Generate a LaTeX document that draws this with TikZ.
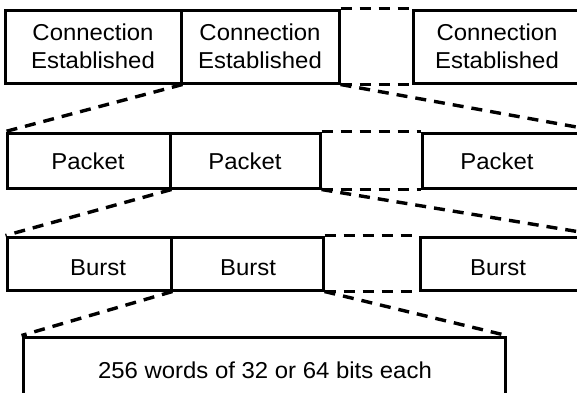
\documentclass[tikz,border=0pt]{standalone}
\usepackage{fontspec}
\setmainfont[FakeStretch=1.04]{Liberation Sans}
\begin{document}
\begin{tikzpicture}[x=1pt,y=-1pt,
  boxline/.style={draw=black,line width=3pt,rectangle,inner sep=0pt},
  dashline/.style={draw=black,line width=3.4pt,dash pattern=on 11pt off 8pt},
  lbl/.style={inner sep=0pt,anchor=base,font=\fontsize{23}{28}\selectfont}]
\useasboundingbox (0,0) rectangle (577,392);
\clip (0,0) rectangle (577,392);
% row 1
\node[boxline,minimum width=176pt,minimum height=73pt] (c1) at (93,46.5) {};
\node[boxline,minimum width=158pt,minimum height=73pt] (c2) at (260,46.5) {};
\node[boxline,minimum width=187pt,minimum height=73pt] (c3) at (506.5,46.5) {};
\node[lbl] (c1a) at (93,40) {Connection};
\node[lbl] (c1b) at (93,68) {Established};
\node[lbl] (c2a) at (260,40) {Connection};
\node[lbl] (c2b) at (260,68) {Established};
\node[lbl] (c3a) at (497,40) {Connection};
\node[lbl] (c3b) at (497,68) {Established};
% row 2
\node[boxline,minimum width=163pt,minimum height=55pt] (p1) at (88.5,160.5) {};
\node[boxline,minimum width=150pt,minimum height=55pt] (p2) at (245,160.5) {};
\node[boxline,minimum width=178pt,minimum height=55pt] (p3) at (511,160.5) {};
\node[lbl] (p1t) at (88,169) {Packet};
\node[lbl] (p2t) at (245,169) {Packet};
\node[lbl] (p3t) at (497,169) {Packet};
% row 3
\node[boxline,minimum width=164pt,minimum height=53pt] (b1) at (89,263.5) {};
\node[boxline,minimum width=152pt,minimum height=53pt] (b2) at (247,263.5) {};
\node[boxline,minimum width=180pt,minimum height=53pt] (b3) at (510,263.5) {};
\node[lbl] (b1t) at (98,275) {Burst};
\node[lbl] (b2t) at (248,275) {Burst};
\node[lbl] (b3t) at (498,275) {Burst};
% row 4
\node[boxline,minimum width=482pt,minimum height=63pt] (w) at (264,368.5) {};
\node[lbl] (wt) at (265,378) {256 words of 32 or 64 bits each};
% gaps between boxes
\draw[dashline] (c2.north east) -- (c3.north west);
\draw[dashline] (c2.south east) -- (c3.south west);
\draw[dashline] (p2.north east) -- (p3.north west);
\draw[dashline] (p2.south east) -- (p3.south west);
\draw[dashline] (b2.north east) -- (b3.north west);
\draw[dashline] (b2.south east) -- (b3.south west);
% expansion lines
\draw[dashline] (c1.south east) -- (p1.north west);
\draw[dashline] (c2.south east) -- (p3.north east);
\draw[dashline] (p1.south east) -- (b1.north west);
\draw[dashline] (p2.south east) -- (b3.north east);
\draw[dashline] (b1.south east) -- (w.north west);
\draw[dashline] (b2.south east) -- (w.north east);
\end{tikzpicture}
\end{document}
